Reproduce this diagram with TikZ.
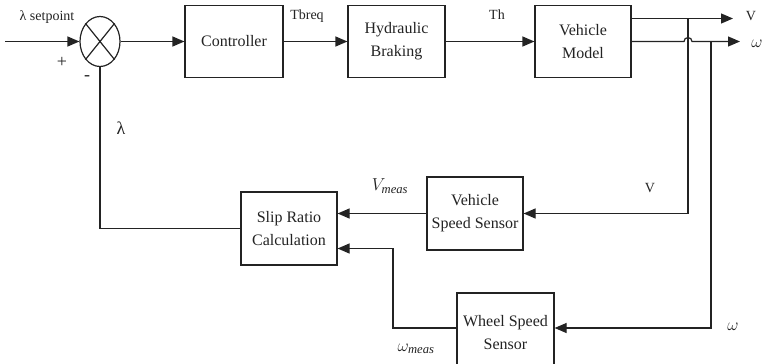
\documentclass[tikz,border=0pt]{standalone}
\usepackage{fontspec}
\setmainfont{Liberation Serif}
\usetikzlibrary{arrows.meta,positioning,calc,shapes.geometric}
\definecolor{Ink}{RGB}{35,35,35}
\tikzset{
  >={Triangle[length=12pt,width=10pt]},
  box/.style={draw=Ink,line width=1.2pt,fill=white,align=center,text=Ink,font=\fontsize{16}{23}\selectfont,inner sep=2pt},
  sumjunc/.style={ellipse,draw=Ink,line width=1.2pt,minimum width=40pt,minimum height=50pt,inner sep=0pt},
  flow/.style={->,line width=1.2pt,draw=Ink},
  wire/.style={line width=1.2pt,draw=Ink},
  lbl/.style={font=\fontsize{14}{16}\selectfont,text=Ink},
  mlbl/.style={font=\fontsize{18}{20}\selectfont,text=Ink}
}
\begin{document}
\begin{tikzpicture}[x=1pt,y=1pt]
  \useasboundingbox (0,0) rectangle (763,-364);
  % forward path
  \node[sumjunc] (sum) at (100,-41.5) {};
  \draw[wire] (sum.north west)--(sum.south east) (sum.north east)--(sum.south west);
  \node[box,minimum width=98pt,minimum height=72pt] (ctrl) at (234,-41.5) {Controller};
  \node[box,minimum width=97pt,minimum height=72pt] (hyd) at (396.5,-41.5) {Hydraulic\\Braking};
  \node[box,minimum width=96pt,minimum height=72pt] (veh) at (583,-41.5) {Vehicle\\Model};
  % feedback blocks
  \node[box,minimum width=96pt,minimum height=73pt] (vss) at (475,-213.5) {Vehicle\\Speed Sensor};
  \node[box,minimum width=96pt,minimum height=73pt] (slip) at (289,-228.5) {Slip Ratio\\Calculation};
  \node[box,minimum width=97pt,minimum height=80pt] (wss) at (505.5,-333) {Wheel Speed\\Sensor};
  \coordinate (sp) at (5,-41.5);
  \coordinate (vtap) at (688,-18.5);
  \coordinate (vout) at (733,-18.5);
  \coordinate (wtap) at (711,-41.5);
  \coordinate (wout) at (740,-41.5);
  \coordinate (wbend) at (393,-248.5);
  \draw[flow] (sp) -- (sum.west);
  \draw[flow] (sum.east) -- (ctrl.west);
  \draw[flow] (ctrl) -- (hyd);
  \draw[flow] (hyd) -- (veh);
  \draw[flow] (veh.east |- vout) -- (vout);
  \draw[flow] (veh.east) -- ($(vtap |- wout)+(-4,0)$) arc (180:0:4) -- (wout);
  \draw[flow] (vtap) |- (vss.east);
  \draw[flow] (wtap) |- ([yshift=5pt]wss.east);
  \draw[flow] (vss.west) -- (vss.west -| slip.east);
  \draw[flow] ([yshift=5pt]wss.west) -| (wbend) -- (wbend -| slip.east);
  \draw[wire] (sum.south) |- (slip.west);
  % labels
  \node[lbl] at (47,-17) {λ setpoint};
  \node[mlbl] at (62,-62) {+};
  \node[mlbl] at (87,-78) {-};
  \node[lbl] at (307,-16) {Tbreq};
  \node[lbl] at (497,-15) {Th};
  \node[lbl] at (751,-16) {V};
  \node[mlbl] at (757,-44) {$\omega$};
  \node[mlbl] at (121,-128) {λ};
  \node[mlbl] at (390,-186) {$V_{\mathit{meas}}$};
  \node[lbl] at (650,-188) {V};
  \node[mlbl] at (416,-349) {$\omega_{\mathit{meas}}$};
  \node[mlbl] at (733,-327) {$\omega$};
\end{tikzpicture}
\end{document}
